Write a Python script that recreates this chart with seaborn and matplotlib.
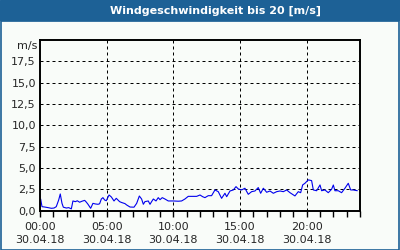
import matplotlib
matplotlib.use("Agg")
import matplotlib.pyplot as plt
import matplotlib.patches as mpatches
from matplotlib.ticker import MultipleLocator, FixedLocator
import seaborn as sns
import pandas as pd

# ---- data (hours since 30.04.18 00:00, wind speed m/s) ----
hours = [0.05, 0.15, 0.35, 0.6, 0.85, 1.05, 1.22, 1.4, 1.52, 1.65, 1.75, 1.98, 2.15, 2.35,
         2.47, 2.65, 2.8, 2.97, 3.15, 3.35, 3.47, 3.6, 3.8, 3.97, 4.15, 4.35, 4.47, 4.6,
         4.72, 4.85, 4.97, 5.18, 5.35, 5.55, 5.72, 5.97, 6.12, 6.37, 6.5, 6.75, 7.05, 7.25,
         7.45, 7.62, 7.75, 7.87, 8.12, 8.25, 8.37, 8.5, 8.7, 8.87, 9.0, 9.17, 9.37, 9.62,
         10.0, 10.37, 10.62, 10.87, 11.12, 11.75, 12.0, 12.2, 12.37, 12.62, 12.87, 13.12,
         13.37, 13.62, 13.87, 14.0, 14.25, 14.5, 14.7, 14.87, 15.12, 15.37, 15.62, 15.87,
         16.12, 16.37, 16.55, 16.75, 17.0, 17.25, 17.5, 17.75, 18.0, 18.25, 18.5, 18.75,
         19.12, 19.37, 19.55, 19.7, 19.87, 20.12, 20.37, 20.5, 20.75, 21.0, 21.12, 21.37,
         21.62, 21.87, 22.0, 22.12, 22.37, 22.62, 22.87, 23.12, 23.3, 23.5, 23.8]
speed = [1.36, 0.46, 0.42, 0.35, 0.27, 0.3, 0.46, 1.24, 1.95, 0.85, 0.4, 0.3, 0.35, 0.2,
         1.13, 1.05, 1.15, 0.98, 1.1, 1.2, 1.0, 0.74, 0.27, 0.85, 0.78, 0.74, 0.8, 1.36,
         1.52, 1.24, 1.16, 1.83, 1.6, 1.13, 1.44, 1.05, 0.95, 0.82, 0.66, 0.42, 0.4, 0.85,
         1.71, 1.36, 0.74, 1.05, 1.13, 0.74, 1.05, 1.36, 1.13, 1.52, 1.28, 1.52, 1.36, 1.13,
         1.13, 1.1, 1.13, 1.36, 1.67, 1.67, 1.83, 1.63, 1.52, 1.75, 1.75, 2.42,
         2.22, 1.44, 2.03, 1.63, 2.3, 2.42, 2.81, 2.54, 2.42, 2.62, 1.91, 2.22,
         2.3, 2.7, 2.03, 2.62, 2.15, 2.3, 2.03, 2.22, 2.3, 2.22, 2.42, 2.1,
         1.72, 2.22, 2.1, 3.01, 3.2, 3.6, 3.52, 2.42, 2.33, 3.01, 2.33, 2.42,
         2.1, 2.5, 3.0, 2.33, 2.33, 2.1, 2.62, 3.2, 2.42, 2.42, 2.33]

y_ticks = [0, 2.5, 5, 7.5, 10, 12.5, 15, 17.5]
y_labels = ["0,0", "2,5", "5,0", "7,5", "10,0", "12,5", "15,0", "17,5"]
x_ticks = [0, 5, 10, 15, 20]
x_labels = ["00:00\n30.04.18", "05:00\n30.04.18", "10:00\n30.04.18",
            "15:00\n30.04.18", "20:00\n30.04.18"]
title = "Windgeschwindigkeit bis 20 [m/s]"
unit = "m/s"

df = pd.DataFrame({"h": hours, "v": speed})

sns.set_style("white")
plt.rcParams["font.family"] = ["DejaVu Sans"]

BG = "#f9fcf9"
BLUE = "#1d6196"

fig = plt.figure(figsize=(4, 2.5), dpi=100, facecolor=BG)
ax = fig.add_axes([40 / 400, 1 - 210.6 / 250, 320 / 400, 170.6 / 250])
ax.set_facecolor(BG)

sns.lineplot(data=df, x="h", y="v", ax=ax, color="#0000ee", linewidth=0.8)

ax.set_xlim(0, 24)
ax.set_ylim(0, 20)
ax.set_xlabel("")
ax.set_ylabel("")

ax.yaxis.set_major_locator(FixedLocator(y_ticks))
ax.set_yticklabels(y_labels)
ax.xaxis.set_major_locator(FixedLocator(x_ticks))
ax.set_xticklabels(x_labels, linespacing=1.45)
ax.xaxis.set_minor_locator(MultipleLocator(1))

ax.tick_params(axis="x", which="both", direction="out", length=4, width=1,
               color="black", labelsize=8, pad=4, bottom=True)
ax.tick_params(axis="y", which="both", length=0, labelsize=8, pad=3)

for v in y_ticks[1:]:
    ax.axhline(v, color="black", lw=0.72, ls=(0, (3, 3)), zorder=1)
for h in x_ticks[1:]:
    ax.axvline(h, color="black", lw=0.72, ls=(0, (3, 3)), zorder=1)

for s in ax.spines.values():
    s.set_color("black")
    s.set_linewidth(1.4)
    s.set_visible(True)

fig.text(37 / 400, 1 - 46 / 250, unit, ha="right", va="center", fontsize=8)

# title bar and frame
fig.patches.append(mpatches.Rectangle((0, 1 - 20 / 250), 1, 20 / 250,
                                      transform=fig.transFigure, color=BLUE, zorder=0))
fig.patches.append(mpatches.Rectangle((0.5 / 400, 0.5 / 250), 398.5 / 400, 229 / 250,
                                      transform=fig.transFigure, fill=False,
                                      edgecolor=BLUE, linewidth=1.2, zorder=0))
fig.text(215 / 400, 1 - 10.5 / 250, title, ha="center", va="center",
         color="white", fontsize=8, fontweight="bold")

fig.savefig("out.png", dpi=100, facecolor=BG)
